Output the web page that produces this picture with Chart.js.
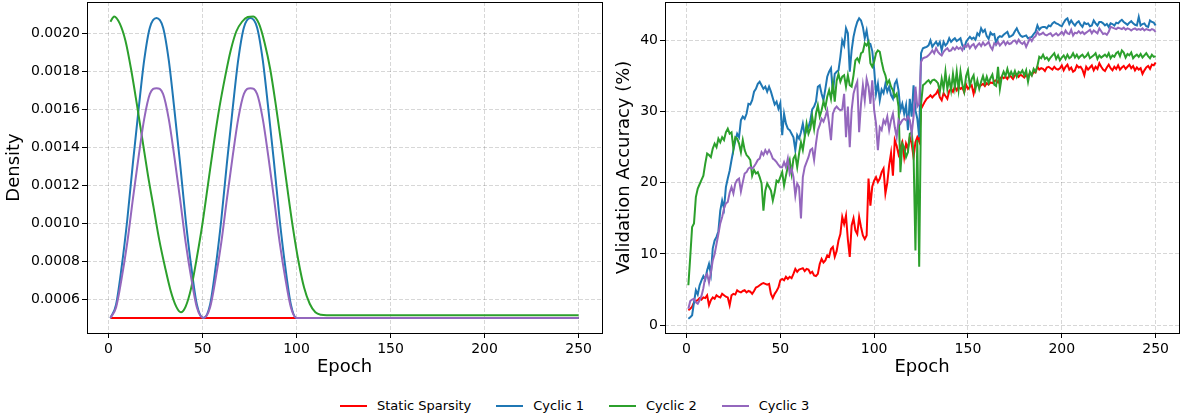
<!DOCTYPE html>
<html>
<head>
<meta charset="utf-8">
<script src="https://cdn.jsdelivr.net/npm/chart.js@4.4.1/dist/chart.umd.min.js"></script>
<style>
  body { margin: 0; background: #fff; width: 1180px; height: 417px; overflow: hidden; position: relative; font-family: "DejaVu Sans", sans-serif; }
  #densityChart { position: absolute; left: 0; top: 0; }
  #accChart { position: absolute; left: 610px; top: 0; }
  #legend { position: absolute; left: 340px; top: 397px; display: flex; align-items: center; font-size: 13px; color: #000; line-height: 18px; }
  .item { display: flex; align-items: center; margin-right: 25px; }
  .swatch { width: 27px; height: 2px; margin-right: 10px; }
</style>
</head>
<body>
<canvas id="densityChart" width="610" height="380"></canvas>
<canvas id="accChart" width="570" height="380"></canvas>
<div id="legend"></div>
<script>
// ---- series names / colours ----
const seriesNames = ['Static Sparsity', 'Cyclic 1', 'Cyclic 2', 'Cyclic 3'];
const seriesColors = ['#ff0000', '#1f77b4', '#2ca02c', '#9467bd'];

// ---- ticks ----
const epochTicks = [0, 50, 100, 150, 200, 250];
const densityTicks = [0.0006, 0.0008, 0.0010, 0.0012, 0.0014, 0.0016, 0.0018, 0.0020];
const accTicks = [0, 10, 20, 30, 40];

// ---- left panel: density schedule ----
const staticEpochs = [1, 250];
const staticDensity = [0.0005, 0.0005];

const cyclicEpochs = [1, 4, 7, 10, 13, 16, 19, 22, 25.5, 29, 32, 35, 38, 41, 44, 47, 50.5,
  54, 57, 60, 63, 66, 69, 72, 75.5, 79, 82, 85, 88, 91, 94, 97, 100, 250];
const cyclic1Density = [0.00050, 0.00057, 0.00077, 0.00102, 0.00132, 0.00160, 0.00186, 0.00203, 0.00208,
  0.00203, 0.00186, 0.00160, 0.00132, 0.00102, 0.00077, 0.00057, 0.00050,
  0.00057, 0.00077, 0.00102, 0.00132, 0.00160, 0.00186, 0.00203, 0.00208,
  0.00203, 0.00186, 0.00160, 0.00132, 0.00102, 0.00077, 0.00057, 0.00050, 0.00050];
const cyclic3Density = [0.00050, 0.000555, 0.00071, 0.00090, 0.00113, 0.00135, 0.00155, 0.00168, 0.00171,
  0.00168, 0.00155, 0.00135, 0.00113, 0.00090, 0.00071, 0.000555, 0.00050,
  0.000555, 0.00071, 0.00090, 0.00113, 0.00135, 0.00155, 0.00168, 0.00171,
  0.00168, 0.00155, 0.00135, 0.00113, 0.00090, 0.00071, 0.000555, 0.00050, 0.00050];

const cyclic2Epochs = [1, 3, 6, 9, 12, 15, 18, 21, 24, 27, 30, 33, 36, 38.5, 41, 44, 47, 50, 53, 56, 59,
  62, 65, 68, 71, 74, 77, 80, 83, 86, 89, 92, 95, 98, 101, 104, 107, 110, 113, 116, 250];
const cyclic2Density = [0.00206, 0.002088, 0.00205, 0.00196, 0.00181, 0.00163, 0.00144, 0.00125, 0.00108,
  0.00091, 0.00077, 0.000645, 0.00056, 0.00053, 0.00056, 0.00066, 0.00082, 0.00100, 0.00121, 0.00142,
  0.00161, 0.00177, 0.00191, 0.00201, 0.00206, 0.002085, 0.002088, 0.00205, 0.00195, 0.00181, 0.00162,
  0.00141, 0.00119, 0.00098, 0.00080, 0.00066, 0.000575, 0.00053, 0.000517, 0.000515, 0.000515];

// ---- right panel: validation accuracy per epoch (1..250) ----
const epochs = Array.from({ length: 250 }, (_, i) => i + 1);

const accStatic = [
  2.1, 2.3, 2.6, 3.2, 3.4, 3.5, 3.8, 3.6, 3.9, 3.8,
  4.2, 2.8, 3.5, 3.9, 3.7, 4.2, 4.0, 3.9, 4.4, 4.2,
  4.0, 3.9, 2.8, 4.2, 4.4, 4.3, 4.9, 4.7, 4.6, 4.8,
  4.9, 4.6, 4.8, 4.7, 4.4, 4.8, 5.3, 5.4, 5.6, 5.8,
  5.9, 5.8, 5.7, 5.8, 4.4, 3.8, 4.4, 4.8, 5.3, 6.3,
  6.5, 6.3, 6.8, 6.5, 6.8, 6.6, 7.2, 7.9, 7.5, 7.8,
  7.9, 8.0, 7.6, 7.9, 7.8, 7.3, 7.5, 7.0, 6.9, 7.2,
  8.6, 9.3, 8.8, 9.1, 9.8, 9.6, 10.7, 11.0, 9.6, 10.4,
  11.9, 12.8, 15.2, 14.2, 15.4, 12.0, 9.6, 14.0, 15.0, 13.3,
  12.8, 15.2, 13.8, 12.6, 12.1, 12.6, 20.6, 16.8, 19.5, 20.3,
  20.8, 20.1, 20.6, 21.5, 22.0, 18.5, 20.0, 22.5, 24.2, 21.0,
  26.0, 25.2, 24.0, 25.0, 25.7, 23.6, 25.5, 24.8, 26.4, 25.5,
  23.6, 25.7, 26.4, 25.8, 30.4, 30.9, 31.4, 31.8, 32.0, 32.3,
  32.0, 32.3, 32.5, 33.0, 32.0, 31.6, 32.6, 32.2, 31.8, 32.9,
  33.2, 32.8, 33.5, 33.0, 33.5, 33.2, 33.4, 32.7, 33.8, 33.2,
  33.5, 33.7, 32.5, 33.6, 33.9, 33.5, 33.7, 33.9, 33.6, 34.0,
  33.8, 34.1, 34.0, 34.3, 34.4, 34.1, 34.6, 34.9, 34.7, 34.9,
  34.6, 35.1, 34.9, 34.6, 35.1, 35.3, 34.9, 35.2, 35.0, 34.8,
  35.2, 34.8, 35.4, 35.1, 35.6, 35.5, 36.3, 35.9, 36.1, 36.0,
  35.7, 36.2, 36.3, 36.1, 35.9, 36.3, 36.0, 35.9, 36.1, 36.5,
  35.8, 36.3, 36.6, 35.9, 36.2, 35.6, 35.8, 36.5, 36.2, 36.3,
  35.9, 35.1, 36.3, 35.9, 36.2, 36.5, 35.8, 36.3, 36.0, 36.8,
  36.3, 35.9, 35.7, 36.2, 36.6, 36.1, 35.8, 36.3, 36.0, 36.5,
  35.9, 36.2, 36.4, 36.0, 36.3, 36.6, 36.1, 36.4, 35.8, 36.2,
  35.9, 36.1, 35.3, 35.8, 36.2, 36.4, 36.0, 36.6, 36.5, 36.9
];

const accCyclic1 = [
  0.9, 1.1, 1.4, 3.2, 4.9, 4.3, 5.6, 6.3, 6.9, 6.4,
  7.7, 8.6, 7.2, 10.8, 11.9, 12.4, 13.2, 16.1, 17.5, 16.4,
  19.4, 20.6, 21.7, 23.2, 24.6, 25.9, 26.9, 26.4, 28.8, 29.3,
  29.0, 29.7, 31.1, 31.0, 31.6, 32.8, 33.2, 33.9, 34.2, 33.7,
  33.2, 33.5, 32.8, 33.5, 32.8, 31.9, 31.0, 31.4, 30.4, 31.2,
  26.7, 29.7, 28.3, 27.6, 27.4, 26.9, 26.4, 24.6, 26.7, 26.2,
  27.1, 28.3, 26.7, 27.4, 27.8, 28.8, 30.3, 30.7, 31.4, 33.5,
  33.7, 32.5, 31.6, 33.2, 34.9, 35.6, 36.1, 32.5, 35.3, 35.6,
  35.8, 37.7, 40.0, 39.3, 41.7, 41.0, 35.6, 38.6, 40.5, 41.7,
  42.6, 43.1, 42.8, 41.9, 40.3, 41.4, 39.6, 39.5, 38.5, 36.0,
  32.5, 33.9, 31.6, 33.1, 32.6, 33.9, 32.8, 33.5, 32.3, 31.8,
  33.9, 34.4, 33.0, 30.2, 31.1, 29.7, 30.9, 27.4, 31.8, 29.3,
  33.7, 30.2, 29.0, 26.4, 38.2, 38.9, 39.0, 39.1, 39.3, 40.0,
  39.1, 39.5, 39.8, 39.3, 39.8, 38.6, 39.8, 39.3, 39.6, 40.3,
  39.8, 40.1, 40.3, 39.9, 40.1, 40.3, 39.3, 38.9, 39.8, 40.2,
  40.5, 40.2, 40.4, 40.1, 41.0, 40.7, 41.7, 41.2, 41.5, 40.6,
  40.2, 41.1, 40.8, 40.9, 39.6, 40.4, 40.6, 40.5, 40.8, 41.0,
  41.2, 40.5, 40.6, 40.8, 41.3, 41.7, 41.1, 40.7, 40.5, 40.6,
  40.7, 40.3, 40.4, 40.5, 40.9, 41.2, 42.1, 41.5, 41.8, 41.9,
  41.9, 41.7, 42.1, 42.0, 42.4, 42.6, 42.4, 42.3, 42.1, 42.0,
  42.5, 42.9, 43.1, 42.3, 42.8, 42.4, 42.1, 42.5, 42.7, 42.2,
  41.9, 42.5, 42.3, 42.4, 42.0, 42.1, 42.8, 42.4, 42.1, 42.6,
  42.6, 42.4, 42.1, 42.3, 41.9, 42.4, 42.3, 42.1, 42.5, 42.4,
  42.7, 42.9, 42.6, 42.4, 42.2, 42.5, 42.7, 42.4, 42.2, 42.1,
  43.3, 42.1, 42.3, 42.4, 42.0, 41.9, 42.8, 42.6, 42.5, 42.1
];

const accCyclic2 = [
  5.6, 9.6, 13.8, 14.3, 18.0, 19.2, 19.8, 20.4, 21.0, 22.7,
  24.1, 23.9, 23.6, 24.8, 25.5, 25.0, 26.2, 25.7, 26.4, 26.0,
  27.1, 27.6, 26.9, 27.1, 24.8, 26.4, 26.2, 25.5, 24.3, 26.0,
  24.6, 23.9, 23.6, 23.2, 21.0, 21.8, 21.3, 21.5, 20.8, 19.9,
  16.1, 18.9, 19.9, 19.4, 18.9, 17.5, 18.7, 20.3, 20.1, 20.8,
  21.5, 19.6, 21.0, 22.3, 23.2, 21.3, 23.4, 23.9, 22.2, 24.1,
  25.7, 24.6, 26.4, 28.3, 26.9, 27.6, 29.3, 27.6, 29.7, 30.9,
  29.3, 30.2, 31.4, 30.6, 32.1, 33.0, 31.8, 33.9, 31.4, 34.3,
  35.3, 34.2, 34.9, 35.1, 33.5, 35.1, 33.7, 33.5, 35.1, 37.2,
  37.5, 37.0, 38.2, 38.4, 39.6, 39.3, 39.8, 36.8, 36.3, 37.0,
  38.2, 38.6, 38.4, 37.0, 35.8, 35.1, 33.9, 34.4, 33.5, 33.0,
  32.1, 32.5, 30.7, 21.5, 25.5, 25.0, 23.6, 24.3, 26.9, 27.1,
  24.1, 10.5, 26.0, 8.2, 31.1, 33.7, 33.9, 34.2, 34.4, 34.0,
  34.4, 34.5, 34.3, 34.0, 32.8, 34.6, 33.2, 35.6, 33.2, 34.6,
  33.0, 35.3, 33.4, 35.6, 33.1, 35.6, 33.8, 32.8, 35.0, 35.8,
  33.6, 34.6, 35.1, 33.2, 34.4, 33.2, 34.2, 35.0, 34.0, 34.9,
  34.0, 34.7, 35.2, 33.8, 33.6, 36.3, 33.2, 34.9, 35.6, 35.0,
  36.0, 35.0, 35.6, 35.0, 35.7, 34.9, 35.6, 35.4, 35.8, 35.1,
  35.8, 34.2, 35.6, 35.1, 36.0, 35.6, 36.4, 37.7, 37.5, 38.0,
  37.4, 37.6, 37.2, 37.6, 37.9, 38.2, 37.4, 37.9, 37.2, 37.6,
  37.9, 37.4, 38.0, 37.5, 37.7, 38.2, 37.6, 38.0, 37.5, 37.8,
  38.0, 37.6, 37.8, 38.2, 37.5, 37.7, 37.9, 38.2, 37.4, 37.9,
  37.6, 37.8, 38.0, 37.7, 38.2, 37.5, 37.9, 37.7, 38.2, 38.4,
  37.8, 38.6, 38.3, 37.6, 38.1, 37.9, 38.3, 37.5, 37.8, 38.0,
  37.7, 38.1, 37.6, 37.9, 38.2, 37.8, 37.5, 38.0, 37.7, 37.8
];

const accCyclic3 = [
  2.3, 3.4, 3.6, 3.7, 3.2, 3.0, 3.5, 4.1, 5.2, 6.8,
  7.2, 6.0, 7.4, 9.1, 10.0, 11.4, 12.8, 14.3, 15.2, 16.4,
  17.1, 17.3, 18.6, 19.4, 18.5, 19.9, 20.4, 20.6, 18.8, 20.1,
  21.3, 21.5, 22.0, 22.2, 22.0, 22.3, 22.7, 23.2, 23.4, 24.3,
  23.9, 24.6, 24.1, 24.6, 24.1, 23.4, 23.2, 22.9, 22.5, 22.2,
  22.2, 22.9, 22.2, 23.4, 21.3, 22.0, 20.8, 18.2, 19.9, 19.4,
  15.0, 20.8, 22.2, 22.9, 23.6, 24.6, 24.8, 23.2, 25.5, 27.4,
  28.1, 29.0, 28.6, 29.3, 30.2, 28.3, 26.0, 29.7, 30.4, 30.7,
  30.4, 30.2, 30.3, 32.5, 26.4, 30.7, 25.0, 30.2, 32.5, 33.5,
  34.2, 27.1, 31.1, 33.7, 31.6, 34.6, 33.5, 31.1, 34.4, 30.2,
  28.3, 24.6, 27.8, 27.4, 28.8, 28.3, 29.3, 27.4, 28.8, 29.7,
  27.8, 26.4, 28.8, 28.3, 28.8, 29.0, 28.8, 29.3, 28.8, 26.9,
  29.3, 33.5, 30.7, 31.1, 37.0, 37.5, 37.6, 37.7, 37.9, 38.2,
  38.6, 38.2, 38.9, 38.4, 38.1, 37.9, 38.4, 38.7, 38.9, 38.5,
  38.6, 39.0, 38.7, 39.1, 38.8, 39.0, 38.6, 39.3, 39.1, 39.5,
  38.9, 39.3, 39.5, 38.9, 39.3, 39.6, 39.2, 39.7, 39.3, 39.5,
  39.8, 39.1, 38.7, 39.6, 39.4, 39.8, 39.3, 39.6, 39.9, 39.4,
  39.8, 39.5, 39.6, 39.9, 40.0, 39.6, 40.1, 39.7, 39.5, 39.8,
  39.1, 39.7, 40.3, 39.9, 40.4, 40.6, 41.2, 40.8, 40.9, 41.1,
  40.8, 40.7, 40.9, 41.0, 40.6, 40.8, 41.0, 40.7, 40.9, 41.2,
  40.8, 41.4, 41.0, 40.9, 41.5, 40.7, 41.1, 41.0, 41.3, 41.0,
  41.2, 40.9, 41.1, 41.3, 41.5, 41.0, 41.4, 41.2, 41.0, 41.7,
  41.3, 40.9, 41.0, 40.8, 41.2, 41.9, 41.8, 41.7, 41.6, 41.8,
  41.7, 41.6, 41.8, 41.5, 41.7, 41.6, 41.4, 41.6, 41.7, 41.5,
  41.6, 41.5, 41.7, 41.4, 41.6, 41.5, 41.4, 41.6, 41.5, 41.2
];

// ==========================================
// shared look (matplotlib-ish)
// ==========================================
const FONT = "'DejaVu Sans', sans-serif";
Chart.defaults.font.family = FONT;
Chart.defaults.color = '#000';

const pts = (xs, ys) => xs.map((x, i) => ({ x: x, y: ys[i] }));

// box round the plot area, all four sides
const frame = {
  id: 'frame',
  afterDraw(chart) {
    const { ctx, chartArea: a } = chart;
    ctx.save();
    ctx.strokeStyle = '#000';
    ctx.lineWidth = 1;
    ctx.strokeRect(Math.round(a.left) + 0.5, Math.round(a.top) + 0.5,
      Math.round(a.right - a.left), Math.round(a.bottom - a.top));
    ctx.restore();
  }
};

function makeScales(yTicks, yMin, yMax, yTitle, yWidth, fmt) {
  const grid = {
    color: 'rgba(0,0,0,0.2)',
    lineWidth: 0.8,
    tickColor: '#000',
    tickLength: 5,
    tickWidth: 1,
    tickBorderDash: []
  };
  return {
    x: {
      type: 'linear',
      min: -11.45,
      max: 262.45,
      afterBuildTicks: s => { s.ticks = epochTicks.map(v => ({ value: v })); },
      afterFit: s => { s.height = 47; s.paddingLeft = 0; s.paddingRight = 0; },
      grid: grid,
      border: { display: false, dash: [4, 2] },
      ticks: { font: { size: 14 }, padding: 3, maxRotation: 0, color: '#000' },
      title: { display: true, text: 'Epoch', font: { size: 18 }, padding: { top: 0, bottom: 2 }, color: '#000' }
    },
    y: {
      type: 'linear',
      min: yMin,
      max: yMax,
      afterBuildTicks: s => { s.ticks = yTicks.map(v => ({ value: v })); },
      afterFit: s => { s.width = yWidth; s.paddingTop = 0; s.paddingBottom = 0; },
      grid: grid,
      border: { display: false, dash: [4, 2] },
      ticks: { font: { size: 14 }, padding: 2, color: '#000', callback: fmt },
      title: { display: true, text: yTitle, font: { size: 18 }, padding: { top: 4, bottom: 0 }, color: '#000' }
    }
  };
}

function lineSet(idx, data, smooth) {
  return {
    label: seriesNames[idx],
    data: data,
    borderColor: seriesColors[idx],
    backgroundColor: seriesColors[idx],
    borderWidth: 2,
    pointRadius: 0,
    fill: false,
    order: 4 - idx, // later series sit on top, like the original plot order
    cubicInterpolationMode: smooth ? 'monotone' : 'default',
    tension: 0
  };
}

const common = {
  responsive: false,
  animation: false,
  events: [],
  plugins: { legend: { display: false }, tooltip: { enabled: false } }
};

// 1. Density schedule
new Chart(document.getElementById('densityChart'), {
  type: 'line',
  data: {
    datasets: [
      lineSet(0, pts(staticEpochs, staticDensity), false),
      lineSet(1, pts(cyclicEpochs, cyclic1Density), true),
      lineSet(2, pts(cyclic2Epochs, cyclic2Density), true),
      lineSet(3, pts(cyclicEpochs, cyclic3Density), true)
    ]
  },
  options: Object.assign({}, common, {
    layout: { padding: { top: 2, right: 8, left: 0, bottom: 0 } },
    scales: makeScales(densityTicks, 0.000421, 0.002164, 'Density', 87, v => v.toFixed(4))
  }),
  plugins: [frame]
});

// 2. Validation accuracy
new Chart(document.getElementById('accChart'), {
  type: 'line',
  data: {
    datasets: [
      lineSet(0, pts(epochs, accStatic), false),
      lineSet(1, pts(epochs, accCyclic1), false),
      lineSet(2, pts(epochs, accCyclic2), false),
      lineSet(3, pts(epochs, accCyclic3), false)
    ]
  },
  options: Object.assign({}, common, {
    layout: { padding: { top: 2, right: 1, left: 0, bottom: 0 } },
    scales: makeScales(accTicks, -1.1, 45.4, 'Validation Accuracy (%)', 55, v => String(v))
  }),
  plugins: [frame]
});

// shared legend under both panels
const legend = document.getElementById('legend');
seriesNames.forEach((name, i) => {
  const item = document.createElement('div');
  item.className = 'item';
  const sw = document.createElement('span');
  sw.className = 'swatch';
  sw.style.background = seriesColors[i];
  const txt = document.createElement('span');
  txt.textContent = name;
  item.appendChild(sw);
  item.appendChild(txt);
  legend.appendChild(item);
});
</script>
</body>
</html>
